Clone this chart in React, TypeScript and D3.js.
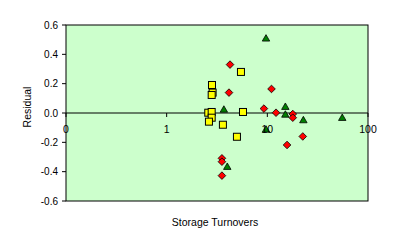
import React from "react";
import * as d3 from "d3";

const triX = [9.7, 3.7, 15.1, 15.1, 22.8, 9.7, 4.0, 55.5];
const triY = [0.505, 0.02, 0.039, -0.014, -0.052, -0.116, -0.37, -0.036];

const diaX = [4.26, 4.16, 11.0, 9.25, 12.2, 17.9, 17.9, 22.5, 15.7, 3.54, 3.54, 3.54];
const diaY = [0.33, 0.139, 0.164, 0.03, 0.002, -0.007, -0.032, -0.16, -0.218, -0.309, -0.332, -0.427];

const sqX = [5.47, 2.82, 2.86, 2.8, 2.59, 2.8, 5.73, 2.8, 2.63, 3.62, 4.99];
const sqY = [0.28, 0.191, 0.139, 0.123, 0.002, 0.007, 0.007, -0.032, -0.059, -0.08, -0.162];

const xTicks = [0.1, 1, 10, 100];
const xTickLabels = ["0", "1", "10", "100"];
const yTicks = [-0.6, -0.4, -0.2, 0.0, 0.2, 0.4, 0.6];

export default function App() {
  const W = 394, H = 248;
  const L = 66, R = 368, T = 25, B = 201;
  const x = d3.scaleLog().domain([0.1, 100]).range([L, R]);
  const y = d3.scaleLinear().domain([-0.6, 0.6]).range([B, T]);
  const font = "'Liberation Sans', Arial, sans-serif";
  const y0 = y(0);
  const tri = d3.symbol().type(d3.symbolTriangle).size(24)();
  const dia = (cx: number, cy: number) => `M${cx},${cy - 3.8}L${cx + 3.8},${cy}L${cx},${cy + 3.8}L${cx - 3.8},${cy}Z`;
  return (
    <svg width={W} height={H} style={{ position: "absolute", left: 0, top: 0 }} fontFamily={font}>
      <rect x={0} y={0} width={W} height={H} fill="#ffffff" />
      <rect x={L} y={T} width={R - L} height={B - T} fill="#ccffcc" stroke="#000" strokeWidth={1} />
      {yTicks.map((t, i) => (
        <g key={"y" + i}>
          <line x1={L - 4} x2={L} y1={y(t)} y2={y(t)} stroke="#000" />
          <text x={58} y={y(t) + 3.5} fontSize={10} textAnchor="end" fill="#000">{t.toFixed(1)}</text>
        </g>
      ))}
      <line x1={L} x2={R} y1={y0} y2={y0} stroke="#000" />
      {xTicks.map((t, i) => (
        <line key={"xt" + i} x1={x(t)} x2={x(t)} y1={y0} y2={y0 + 4} stroke="#000" />
      ))}
      {sqX.map((v, i) => (
        <rect key={"s" + i} x={x(v) - 3.5} y={y(sqY[i]) - 3.5} width={7} height={7} fill="#ffff00" stroke="#000" strokeWidth={1} />
      ))}
      {diaX.map((v, i) => (
        <path key={"d" + i} d={dia(x(v), y(diaY[i]))} fill="#ff0000" stroke="#000" strokeWidth={0.8} />
      ))}
      {triX.map((v, i) => (
        <path key={"t" + i} d={tri} transform={`translate(${x(v)},${y(triY[i])})`} fill="#008000" stroke="#000" strokeWidth={0.8} />
      ))}
      {xTicks.map((t, i) => (
        <text key={"xl" + i} x={x(t)} y={y0 + 20} fontSize={10.5} textAnchor="middle" fill="#000">{xTickLabels[i]}</text>
      ))}
      <text x={0} y={0} transform={`translate(31,${107})rotate(-90)`} fontSize={10.5} textAnchor="middle" fill="#000">Residual</text>
      <text x={215} y={226} fontSize={10.5} textAnchor="middle" fill="#000">Storage Turnovers</text>
    </svg>
  );
}
